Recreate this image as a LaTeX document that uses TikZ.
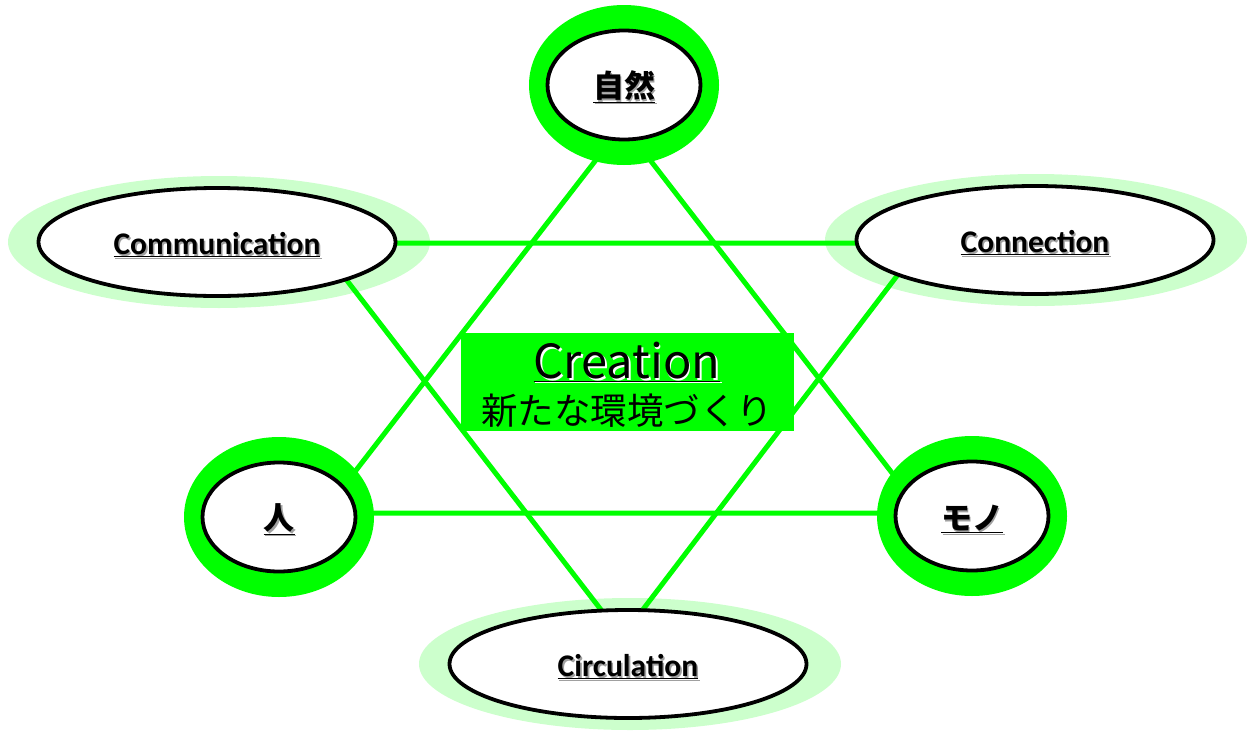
\documentclass[tikz,border=0pt]{standalone}
\usepackage{fontspec}
\usepackage{xcolor}
\usepackage{tikz}
\usetikzlibrary{shapes.geometric,calc}
\newfontfamily\jpfont{Noto Sans CJK JP}
\newfontfamily\labfont{Carlito}
\definecolor{leaf}{HTML}{00FF00}
\definecolor{glowg}{HTML}{CCFFCC}
\definecolor{shadowg}{HTML}{A0A0A0}
\newcommand{\shtext}[2]{\leavevmode\rlap{\kern1.6pt\raisebox{-1.6pt}{\textcolor{#1}{\underline{#2}}}}\underline{#2}}
\tikzset{
  glow/.style={ellipse, fill=glowg, inner sep=0pt, minimum width=422pt, minimum height=132pt},
  ring/.style={ellipse, fill=leaf, inner sep=0pt, minimum width=190pt, minimum height=160pt},
  oval/.style={ellipse, draw=black, fill=white, line width=3.8pt, inner sep=0pt,
    minimum width=153pt, minimum height=109pt, text height=32pt,
    font=\jpfont\bfseries\fontsize{31}{36}\selectfont},
  wideoval/.style={oval, minimum width=357pt, minimum height=108pt, text height=29pt,
    font=\labfont\bfseries\fontsize{31.5}{36}\selectfont},
  link/.style={draw=leaf, line width=5pt},
  core/.style={rectangle, fill=leaf, inner sep=0pt, minimum width=333pt, minimum height=98pt,
    align=center, text height=89pt, font=\jpfont\fontsize{36.5}{46}\selectfont}
}

\begin{document}
\begin{tikzpicture}[x=1pt, y=-1pt]
  \useasboundingbox (0,0) rectangle (1247,731);
  \coordinate (N) at (624,85);
  \coordinate (H) at (279,517);
  \coordinate (M) at (972,516);
  \coordinate (CM) at (217,242);
  \coordinate (CN) at (1035,240);
  \coordinate (CI) at (628,664);

  \node[glow] (cmg) at ($(CM)+(2,0)$) {};
  \node[glow] (cng) at ($(CN)+(1,0)$) {};
  \node[glow] (cig) at ($(CI)+(2,0)$) {};

  \coordinate (Nv) at ($(N)+(-1,40)$);
  \coordinate (Hv) at ($(H)+(44,-4)$);
  \coordinate (Mv) at ($(M)+(-49,-3)$);
  \coordinate (CMv) at ($(CM)+(101,1)$);
  \coordinate (CNv) at ($(CN)+(-113,3)$);
  \coordinate (CIv) at ($(CI)+(-6,-27)$);

  \draw[link] (Nv) -- (Hv) -- (Mv) -- cycle;
  \draw[link] (CMv) -- (CNv) -- (CIv) -- cycle;

  \node[ring] (ng) at (N) {};
  \node[ring] (hg) at (H) {};
  \node[ring] (mg) at (M) {};

  \node[oval] (nat) at (N) {\shtext{shadowg}{自然}};
  \node[oval] (hito) at (H) {\shtext{shadowg}{人}};
  \node[oval] (mono) at (M) {\shtext{shadowg}{モノ}};
  \node[wideoval] (comm) at (CM) {\shtext{shadowg}{Communication}};
  \node[wideoval] (conn) at (CN) {\shtext{shadowg}{Connection}};
  \node[wideoval] (circ) at (CI) {\shtext{shadowg}{Circulation}};

  \node[core] (cre) at (627,382) {{\fontsize{47}{47}\selectfont\shtext{white}{Creation}}\\新たな環境づくり};
\end{tikzpicture}
\end{document}
